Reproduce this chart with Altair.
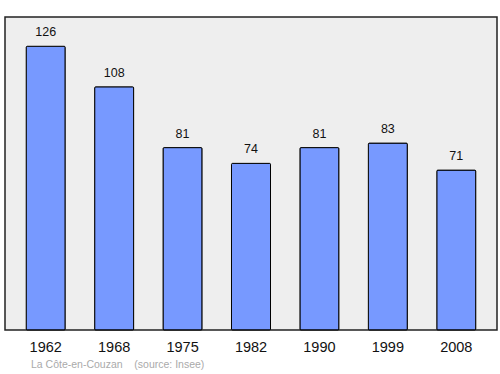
import altair as alt
import pandas as pd

years = ["1962", "1968", "1975", "1982", "1990", "1999", "2008"]
population = [126, 108, 81, 74, 81, 83, 71]

df = pd.DataFrame({"year": years, "pop": population})

base = alt.Chart(df).encode(
    x=alt.X("year:N", sort=years,
            scale=alt.Scale(paddingInner=0.43, paddingOuter=0.31),
            axis=alt.Axis(title=None, labelAngle=0, ticks=False, domain=False,
                          labelFontSize=14.5, labelColor="#111111", labelPadding=10,
                          labelFont="Liberation Sans")),
    y=alt.Y("pop:Q", scale=alt.Scale(domain=[0, 139], nice=False),
            axis=None),
)

bars = base.mark_bar(color="#7799ff", stroke="#000000", strokeWidth=1, cornerRadius=1)
labels = base.mark_text(baseline="bottom", dy=-7, fontSize=12.5, font="Liberation Sans",
                        color="#111111").encode(text="pop:Q")

chart = (bars + labels).properties(
    width=492, height=313,
    title=alt.TitleParams("La Côte-en-Couzan\u00a0\u00a0\u00a0\u00a0(source: Insee)", orient="bottom",
                          anchor="start", fontSize=10.5, fontWeight="normal",
                          font="Liberation Sans", color="#aaaaaa", dx=26, offset=6),
    autosize=alt.AutoSizeParams(type="none"),
    padding={"left": 5, "top": 17, "right": 3, "bottom": 44},
).configure_view(fill="#eeeeee", stroke="#222222", strokeWidth=1.5)

chart.save("out.html", embed_options={"renderer": "svg", "actions": False})
